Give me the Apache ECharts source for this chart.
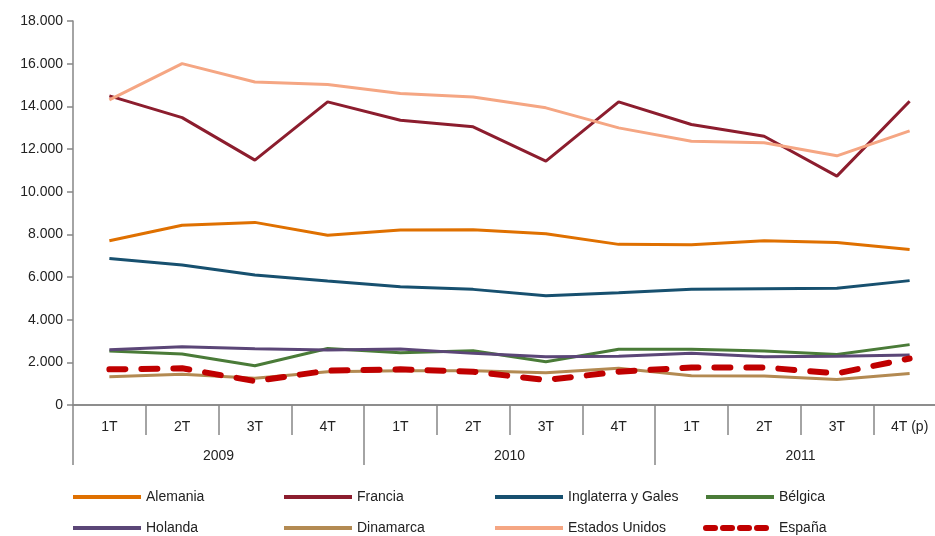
<!DOCTYPE html>
<html>
<head>
<meta charset="utf-8">
<script src="https://cdn.jsdelivr.net/npm/echarts@6/dist/echarts.min.js"></script>
<style>
  html, body { margin: 0; padding: 0; background: #fff; }
  #main { width: 935px; height: 536px; }
</style>
</head>
<body>
<div id="main"></div>
<script>
// trimestres y años
const trimestres = ['1T', '2T', '3T', '4T', '1T', '2T', '3T', '4T', '1T', '2T', '3T', '4T (p)']
const anios = ['2009', '2010', '2011']

// valores
const alemania = [7700, 8430, 8560, 7960, 8200, 8220, 8030, 7530, 7510, 7700, 7620, 7290]
const francia = [14490, 13470, 11480, 14210, 13350, 13040, 11430, 14210, 13150, 12600, 10730, 14240]
const inglaterra = [6870, 6560, 6090, 5810, 5540, 5420, 5120, 5260, 5420, 5450, 5470, 5830]
const belgica = [2530, 2390, 1840, 2650, 2450, 2540, 2030, 2610, 2610, 2530, 2370, 2830]
const holanda = [2590, 2730, 2640, 2580, 2620, 2420, 2260, 2290, 2420, 2260, 2290, 2340]
const dinamarca = [1330, 1440, 1250, 1560, 1610, 1600, 1510, 1720, 1370, 1360, 1200, 1480]
const estadosUnidos = [14300, 16000, 15140, 15020, 14600, 14440, 13930, 12990, 12360, 12290, 11680, 12850]
const espana = [1670, 1720, 1120, 1610, 1670, 1560, 1170, 1560, 1760, 1760, 1480, 2180]

const font = 'Liberation Sans, Arial, sans-serif'
const gris = '#868686'

function serie (name, data, color, width, dashed) {
  return {
    name,
    type: 'line',
    data,
    symbol: 'none',
    lineStyle: { color, width, type: dashed ? [16, 16] : 'solid', cap: dashed ? 'round' : 'butt' },
    itemStyle: { color },
    emphasis: { disabled: true }
  }
}

// una leyenda por columna, dos filas
function leyenda (left, names) {
  return {
    left,
    top: 490,
    orient: 'vertical',
    padding: 0,
    itemGap: 17,
    itemWidth: 68,
    itemHeight: 14,
    data: names.map(n => n === 'España'
      ? { name: n, lineStyle: { width: 6, type: [9, 8], cap: 'round' } }
      : { name: n, lineStyle: { width: 4 } }),
    selectedMode: false,
    itemStyle: { opacity: 0 },
    textStyle: { fontFamily: font, fontSize: 14, color: '#222' }
  }
}

const chart = echarts.init(document.getElementById('main'))
chart.setOption({
  animation: false,
  grid: { left: 73, top: 21, width: 873, height: 384, outerBoundsMode: 'none', containLabel: false },
  legend: [
    leyenda(71, ['Alemania', 'Holanda']),
    leyenda(282, ['Francia', 'Dinamarca']),
    leyenda(493, ['Inglaterra y Gales', 'Estados Unidos']),
    leyenda(703, ['Bélgica', 'España'])
  ],
  xAxis: [
    {
      type: 'category',
      data: trimestres,
      position: 'bottom',
      axisLine: { show: true, lineStyle: { color: gris, width: 1.5 } },
      axisTick: { show: true, length: 30, interval: 0, lineStyle: { color: gris, width: 1.5 } },
      axisLabel: { interval: 0, margin: 15, fontFamily: font, fontSize: 14, color: '#222' }
    },
    {
      type: 'category',
      data: anios,
      position: 'bottom',
      axisLine: { show: true, lineStyle: { color: gris, width: 1.5 } },
      axisTick: { show: true, length: 60, interval: 0, lineStyle: { color: gris, width: 1.5 } },
      axisLabel: { interval: 0, margin: 44, fontFamily: font, fontSize: 14, color: '#222' }
    }
  ],
  yAxis: {
    type: 'value',
    min: 0,
    max: 18000,
    interval: 2000,
    splitLine: { show: false },
    axisLine: { show: true, lineStyle: { color: gris, width: 1.5 } },
    axisTick: { show: true, length: 6, lineStyle: { color: gris, width: 1.5 } },
    axisLabel: {
      margin: 10,
      fontFamily: font,
      fontSize: 14,
      color: '#222',
      formatter: v => String(v).replace(/\B(?=(\d{3})+(?!\d))/g, '.')
    }
  },
  series: [
    serie('Alemania', alemania, '#DF7000', 3),
    serie('Francia', francia, '#8C1D2E', 3),
    serie('Inglaterra y Gales', inglaterra, '#17506F', 3),
    serie('Bélgica', belgica, '#4A7B38', 3),
    serie('Holanda', holanda, '#5B4677', 3),
    serie('Dinamarca', dinamarca, '#B38A52', 3),
    serie('Estados Unidos', estadosUnidos, '#F5A683', 3),
    serie('España', espana, '#C00000', 6, true)
  ]
})
</script>
</body>
</html>
